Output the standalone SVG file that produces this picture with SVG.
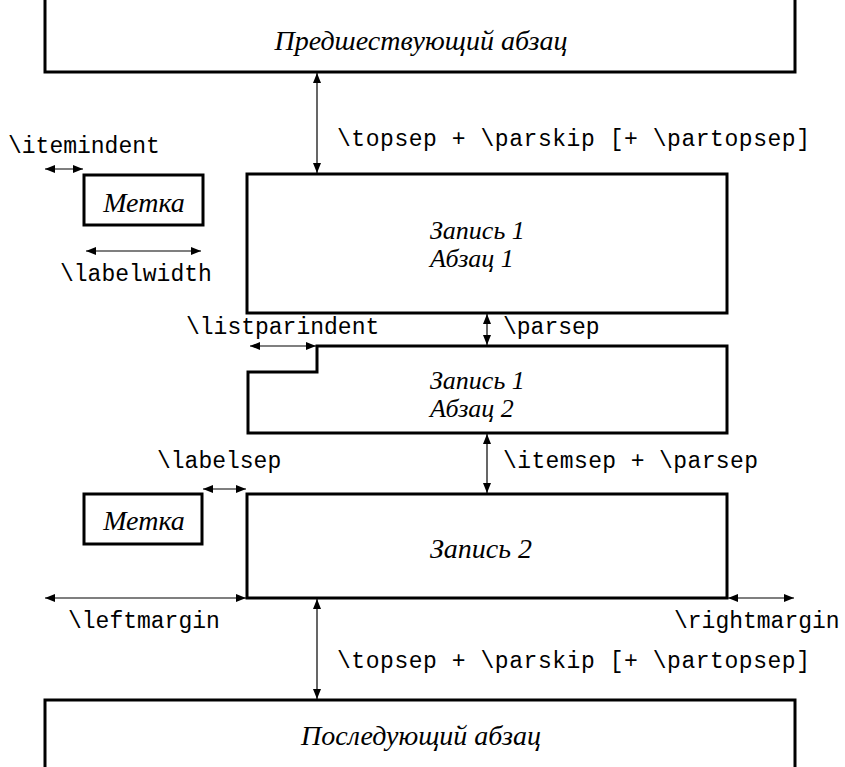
<svg xmlns="http://www.w3.org/2000/svg" width="845" height="767" viewBox="0 0 845 767">
<style>
.box{fill:none;stroke:#000;stroke-width:3}
.arr{fill:none;stroke:#000;stroke-width:1.2;marker-start:url(#ah);marker-end:url(#ah)}
.tt{font-family:"Liberation Mono",monospace;font-size:23px;fill:#000}
.it{font-family:"Liberation Serif",serif;font-style:italic;font-size:28px;fill:#000}
.it2{font-family:"Liberation Serif",serif;font-style:italic;font-size:26px;fill:#000}
</style>
<defs>
<marker id="ah" viewBox="0 0 10 8" refX="10" refY="4" markerWidth="10" markerHeight="8" markerUnits="userSpaceOnUse" orient="auto-start-reverse">
<path d="M0,0 L10,4 L0,8 Z" fill="#000"/>
</marker>
</defs>
<rect width="845" height="767" fill="#fff"/>
<g id="prev">
<path class="box" d="M45,0 V72 H795 V0"/>
<text class="it" x="421" y="50" text-anchor="middle">Предшествующий абзац</text>
</g>
<g id="label1">
<rect class="box" x="84" y="175" width="119" height="50"/>
<text class="it" x="144" y="212" text-anchor="middle">Метка</text>
</g>
<g id="item1par1">
<rect class="box" x="247" y="174" width="480" height="139"/>
<text class="it2" x="430" y="239">Запись 1</text>
<text class="it2" x="430" y="267">Абзац 1</text>
</g>
<g id="item1par2">
<path class="box" d="M317,346 H727 V433 H248 V372 H317 Z"/>
<text class="it2" x="430" y="389">Запись 1</text>
<text class="it2" x="430" y="417">Абзац 2</text>
</g>
<g id="label2">
<rect class="box" x="84" y="494" width="118" height="50"/>
<text class="it" x="144" y="530" text-anchor="middle">Метка</text>
</g>
<g id="item2">
<rect class="box" x="247" y="494" width="480" height="104"/>
<text class="it" x="430" y="558">Запись 2</text>
</g>
<g id="next">
<path class="box" d="M45,767 V700 H795 V767"/>
<text class="it" x="421" y="745" text-anchor="middle">Последующий абзац</text>
</g>
<g id="connectors">
<line class="arr" x1="317" y1="73" x2="317" y2="173"/>
<line class="arr" x1="45" y1="169" x2="83" y2="169"/>
<line class="arr" x1="86" y1="251" x2="201" y2="251"/>
<line class="arr" x1="487" y1="314" x2="487" y2="345"/>
<line class="arr" x1="250" y1="346" x2="316" y2="346"/>
<line class="arr" x1="487" y1="434" x2="487" y2="493"/>
<line class="arr" x1="203" y1="489" x2="246" y2="489"/>
<line class="arr" x1="45" y1="598" x2="246" y2="598"/>
<line class="arr" x1="728" y1="598" x2="794" y2="598"/>
<line class="arr" x1="317" y1="599" x2="317" y2="699"/>
</g>
<g id="labels">
<text class="tt" x="337" y="146" textLength="473" lengthAdjust="spacing">\topsep + \parskip [+ \partopsep]</text>
<text class="tt" x="8" y="153">\itemindent</text>
<text class="tt" x="60" y="281">\labelwidth</text>
<text class="tt" x="186" y="334">\listparindent</text>
<text class="tt" x="503" y="334">\parsep</text>
<text class="tt" x="157" y="468">\labelsep</text>
<text class="tt" x="503" y="468" textLength="255" lengthAdjust="spacing">\itemsep + \parsep</text>
<text class="tt" x="68" y="628">\leftmargin</text>
<text class="tt" x="674" y="628">\rightmargin</text>
<text class="tt" x="337" y="668" textLength="473" lengthAdjust="spacing">\topsep + \parskip [+ \partopsep]</text>
</g>
</svg>
